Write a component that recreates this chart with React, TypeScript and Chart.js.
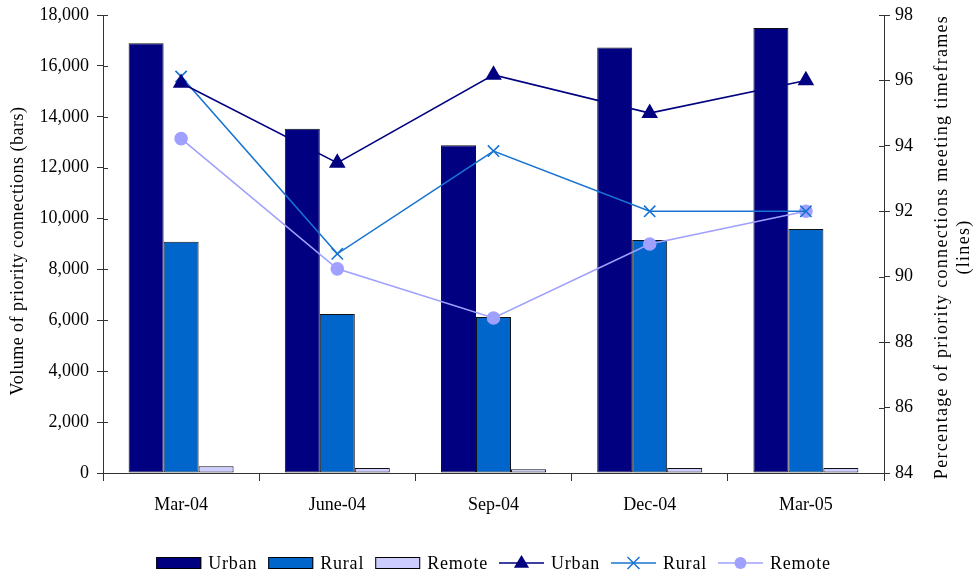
import React, { useEffect, useRef } from "react";
import { Chart, registerables } from "chart.js";
Chart.register(...registerables);

const categories = ["Mar-04", "June-04", "Sep-04", "Dec-04", "Mar-05"];
const urbanVolume = [16890, 13530, 12880, 16720, 17490];
const ruralVolume = [9090, 6250, 6130, 9160, 9590];
const remoteVolume = [270, 200, 145, 200, 200];
const urbanPct = [95.92, 93.48, 96.17, 95.0, 96.0];
const ruralPct = [96.12, 90.7, 93.84, 92.0, 92.0];
const remotePct = [94.22, 90.24, 88.74, 91.0, 92.0];
const leftTitle = "Volume of priority connections (bars)";
const rightTitle = ["Percentage of priority connections meeting timeframes", "(lines)"];

const FONT = "'Liberation Serif', 'Times New Roman', serif";
const FS = 18;

function drawMarker(ctx: CanvasRenderingContext2D, style: string, x: number, y: number, r: number) {
  ctx.beginPath();
  if (style === "triangle") {
    ctx.moveTo(x, y - r);
    ctx.lineTo(x + r * 0.95, y + r * 0.6);
    ctx.lineTo(x - r * 0.95, y + r * 0.6);
    ctx.closePath();
    ctx.fill();
  } else if (style === "crossRot") {
    const d = r * 0.75;
    ctx.moveTo(x - d, y - d);
    ctx.lineTo(x + d, y + d);
    ctx.moveTo(x + d, y - d);
    ctx.lineTo(x - d, y + d);
    ctx.stroke();
  } else {
    ctx.arc(x, y, r, 0, Math.PI * 2);
    ctx.fill();
  }
}

const extrasPlugin = {
  id: "extras",
  afterDraw(chart: any) {
    const ctx = chart.ctx;
    const area = chart.chartArea;
    const yL = chart.scales.y;
    const yR = chart.scales.y1;
    ctx.save();
    // inner tick halves
    ctx.strokeStyle = "#333";
    ctx.lineWidth = 1;
    yL.ticks.forEach((t: any) => {
      const y = Math.round(yL.getPixelForValue(t.value)) + 0.5;
      ctx.beginPath();
      ctx.moveTo(area.left, y);
      ctx.lineTo(area.left + 5, y);
      ctx.stroke();
    });
    yR.ticks.forEach((t: any) => {
      const y = Math.round(yR.getPixelForValue(t.value)) + 0.5;
      ctx.beginPath();
      ctx.moveTo(area.right - 5, y);
      ctx.lineTo(area.right, y);
      ctx.stroke();
    });
    // axis titles
    ctx.fillStyle = "#000";
    ctx.font = `${FS}px ${FONT}`;
    ctx.textAlign = "center";
    ctx.textBaseline = "middle";
    ctx.save();
    ctx.letterSpacing = "0.5px";
    ctx.translate(18, 251);
    ctx.rotate(-Math.PI / 2);
    ctx.fillText(leftTitle, 0, 0);
    ctx.restore();
    ctx.save();
    ctx.letterSpacing = "1.3px";
    ctx.translate(942, 247);
    ctx.rotate(-Math.PI / 2);
    ctx.fillText(rightTitle[0], 0, 0);
    ctx.fillText(rightTitle[1], 0, 22);
    ctx.restore();

    // legend
    const items = chart.data.datasets;
    const boxW = 45;
    const gapText = 7;
    const gapItem = 11;
    ctx.font = `${FS}px ${FONT}`;
    ctx.letterSpacing = "0.8px";
    const widths = items.map((d: any) => boxW + gapText + ctx.measureText(d.label).width);
    const total = widths.reduce((a: number, b: number) => a + b, 0) + gapItem * (items.length - 1);
    let x = (area.left + area.right) / 2 - total / 2;
    const ly = 563;
    items.forEach((d: any, i: number) => {
      if (d.type === "line") {
        ctx.strokeStyle = d.borderColor;
        ctx.lineWidth = d.borderWidth;
        ctx.beginPath();
        ctx.moveTo(x, ly);
        ctx.lineTo(x + boxW, ly);
        ctx.stroke();
        ctx.fillStyle = d.pointBackgroundColor;
        ctx.strokeStyle = d.pointBorderColor;
        ctx.lineWidth = 1.5;
        drawMarker(ctx, d.pointStyle, x + boxW / 2, ly, d.pointRadius);
      } else {
        ctx.fillStyle = d.backgroundColor;
        ctx.fillRect(x, ly - 6, boxW, 12);
        ctx.strokeStyle = "#000";
        ctx.lineWidth = 1;
        ctx.strokeRect(x + 0.5, ly - 5.5, boxW - 1, 11);
      }
      ctx.fillStyle = "#000";
      ctx.textAlign = "left";
      ctx.textBaseline = "middle";
      ctx.fillText(d.label, x + boxW + gapText, ly + 1);
      x += widths[i] + gapItem;
    });
    ctx.restore();
  },
};

export default function App() {
  const ref = useRef<HTMLCanvasElement>(null);
  useEffect(() => {
    document.body.style.margin = "0";
    const barCommon = {
      type: "bar" as const,
      yAxisID: "y",
      borderColor: "#111",
      borderWidth: 1,
      borderSkipped: false,
      categoryPercentage: 0.672,
      barPercentage: 1.0,
      order: 2,
    };
    const lineCommon = {
      type: "line" as const,
      yAxisID: "y1",
      borderWidth: 1.6,
      tension: 0,
      fill: false,
      order: 1,
    };
    const chart = new Chart(ref.current as HTMLCanvasElement, {
      data: {
        labels: categories,
        datasets: [
          { ...barCommon, label: "Urban", data: urbanVolume, backgroundColor: "#000080" },
          { ...barCommon, label: "Rural", data: ruralVolume, backgroundColor: "#0066CC" },
          { ...barCommon, label: "Remote", data: remoteVolume, backgroundColor: "#CCCCFF" },
          {
            ...lineCommon,
            label: "Urban",
            data: urbanPct,
            borderColor: "#000080",
            pointStyle: "triangle",
            pointRadius: 8,
            pointBackgroundColor: "#000080",
            pointBorderColor: "#000080",
          },
          {
            ...lineCommon,
            label: "Rural",
            data: ruralPct,
            borderColor: "#1874D2",
            pointStyle: "crossRot",
            pointRadius: 8,
            pointBorderWidth: 1.6,
            pointBackgroundColor: "#1874D2",
            pointBorderColor: "#1874D2",
          },
          {
            ...lineCommon,
            label: "Remote",
            data: remotePct,
            borderColor: "#A0A0FF",
            pointStyle: "circle",
            pointRadius: 6,
            pointBackgroundColor: "#A0A0FF",
            pointBorderColor: "#A0A0FF",
          },
        ],
      } as any,
      options: {
        animation: false,
        responsive: false,
        layout: { padding: { top: 15, left: 0, right: 0, bottom: 0 } },
        plugins: {
          legend: { display: false },
          tooltip: { enabled: false },
        },
        scales: {
          x: {
            type: "category",
            offset: true,
            grid: { offset: true, drawOnChartArea: false, tickLength: 8, color: "#333" },
            border: { color: "#333", width: 1 },
            ticks: { font: { family: FONT, size: FS }, color: "#000", padding: 13, maxRotation: 0 },
            afterFit: (s: any) => {
              s.height = 103;
              s.paddingLeft = 0;
              s.paddingRight = 0;
            },
          },
          y: {
            position: "left",
            min: 0,
            max: 18000,
            ticks: {
              stepSize: 2000,
              font: { family: FONT, size: FS },
              color: "#000",
              padding: 8,
              callback: (v: any) => Number(v).toLocaleString("en-US"),
            },
            grid: { drawOnChartArea: false, tickLength: 6, color: "#333" },
            border: { color: "#333", width: 1 },
            afterFit: (s: any) => {
              s.width = 103;
              s.paddingTop = 0;
              s.paddingBottom = 0;
            },
          },
          y1: {
            position: "right",
            min: 84,
            max: 98,
            ticks: {
              stepSize: 2,
              font: { family: FONT, size: FS },
              color: "#000",
              padding: 5,
            },
            grid: { drawOnChartArea: false, tickLength: 6, color: "#333" },
            border: { color: "#333", width: 1 },
            afterFit: (s: any) => {
              s.width = 89;
              s.paddingTop = 0;
              s.paddingBottom = 0;
            },
          },
        },
      } as any,
      plugins: [extrasPlugin],
    });
    return () => chart.destroy();
  }, []);
  return <canvas ref={ref} width={973} height={576} style={{ display: "block" }} />;
}
